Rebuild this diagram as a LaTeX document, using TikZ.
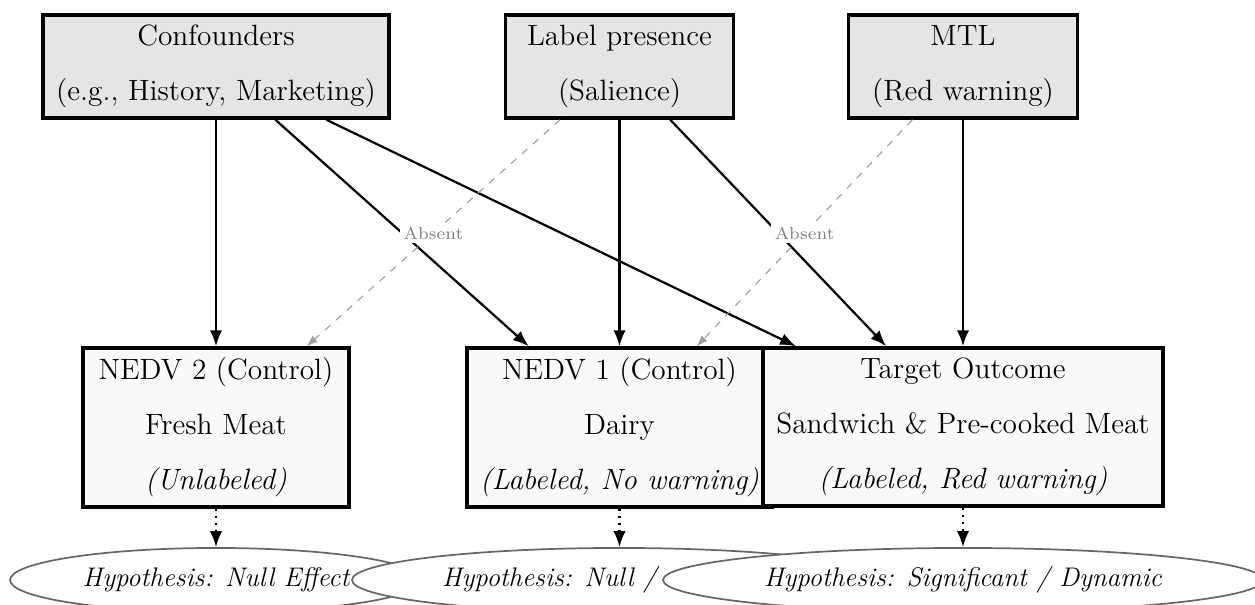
\documentclass[tikz,border=0pt]{standalone}
\usetikzlibrary{arrows.meta,shapes.geometric}
\begin{document}
\begin{tikzpicture}[x=0.4088pt,y=-0.4088pt,
  cause/.style={draw, line width=1.4pt, fill=gray!20, align=center, inner sep=2pt,
    font=\fontsize{12}{22.5}\selectfont, minimum height=42.1pt},
  outcome/.style={draw, line width=1.4pt, fill=gray!5, align=center, inner sep=2pt,
    font=\fontsize{12}{22.5}\selectfont, minimum height=65pt},
  hyp/.style={ellipse, draw=black!60, line width=0.7pt, fill=white, inner sep=0pt,
    font=\fontsize{11}{13.2}\selectfont\itshape, minimum height=26.2pt},
  link/.style={-{Latex[length=6.5pt,width=5pt]}, line width=0.9pt},
  absent/.style={-{Latex[length=4.5pt,width=3.4pt]}, dashed, draw=gray!75, line width=0.45pt},
  tag/.style={fill=white, text=gray, font=\fontsize{7}{8.4}\selectfont, inner sep=1.5pt},
  expect/.style={-{Latex[length=6.5pt,width=5pt]}, dotted, line width=0.9pt}
]
\useasboundingbox (0,0) rectangle (1255,605);

% causes
\node[cause, minimum width=141.4pt] (conf) at (216,66.5) {Confounders\\(e.g., History, Marketing)};
\node[cause, minimum width=93.2pt] (label) at (619.5,66.5) {Label presence\\(Salience)};
\node[cause, minimum width=93.6pt] (mtl) at (963,66.5) {MTL\\(Red warning)};

% outcomes
\node[outcome, minimum width=108.7pt] (nedv2) at (216,427.5)
  {NEDV 2 (Control)\\Fresh Meat\\\textit{(Unlabeled)}};
\node[outcome, minimum width=124.7pt] (nedv1) at (619.5,427.5)
  {NEDV 1 (Control)\\Dairy\\\textit{(Labeled, No warning)}};
\node[outcome, minimum width=163.5pt, minimum height=64.6pt] (target) at (963,427)
  {Target Outcome\\Sandwich \& Pre-cooked Meat\\\textit{(Labeled, Red warning)}};

% causal paths
\draw[link] (conf) -- (nedv2);
\draw[link] (conf) -- (nedv1);
\draw[link] (conf) -- (target);
\draw[link] (label) -- (nedv1);
\draw[link] (label) -- (target);
\draw[link] (mtl) -- (target);
\draw[absent] (label) -- node[tag] {Absent} (nedv2);
\draw[absent] (mtl) -- node[tag] {Absent} (nedv1);

% hypotheses
\node[hyp, minimum width=168.4pt] (h2) at (216,580) {Hypothesis: Null Effect};
\node[hyp, minimum width=218.7pt] (h1) at (619.5,580) {\makebox[145.1pt][l]{Hypothesis: Null /}};
\node[hyp, minimum width=245.3pt] (h0) at (963,580) {Hypothesis: Significant / Dynamic};

\draw[expect] (nedv2) -- (h2);
\draw[expect] (nedv1) -- (h1);
\draw[expect] (target) -- (h0);
\end{tikzpicture}
\end{document}
